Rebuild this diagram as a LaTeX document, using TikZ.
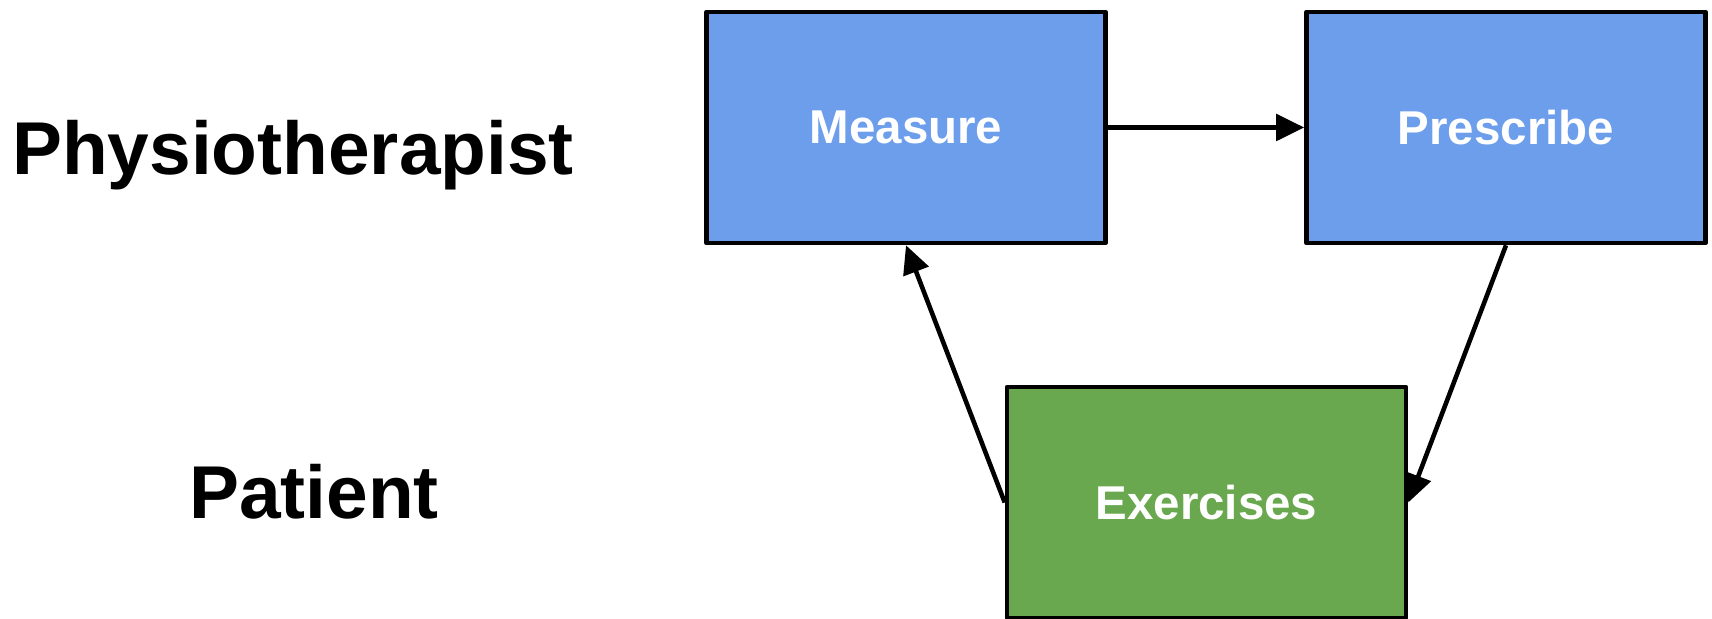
\documentclass[tikz,border=0pt]{standalone}
\usepackage{fontspec}
\setmainfont{Liberation Sans}
\usepackage{tikz}
\usetikzlibrary{arrows.meta, positioning}
\definecolor{stepblue}{HTML}{6D9EEB}
\definecolor{stepgreen}{HTML}{6AA84F}

\tikzset{
  stepbox/.style={draw=black, line width=1.3pt, line join=round,
    minimum width=3.99cm, minimum height=2.31cm, inner sep=0pt,
    text=white, font=\fontsize{13.5}{16}\selectfont\bfseries, text depth=0pt},
  role/.style={font=\fontsize{21.3}{25}\selectfont\bfseries, anchor=base, inner sep=0pt},
  flow/.style={-{Triangle[length=8pt, width=7.5pt]}, line width=1.3pt}
}

\begin{document}
\begin{tikzpicture}
  \useasboundingbox (0,0) rectangle (17.12,6.19);

  % Role labels
  \node[role] (physio) at (2.93,4.44) {Physiotherapist};
  \node[role] (patient) at (3.14,1.00) {Patient};

  % Steps
  \node[stepbox, fill=stepblue] (measure) at (9.06,4.915) {Measure};
  \node[stepbox, fill=stepblue] (prescribe) at (15.06,4.915) {Prescribe};
  \node[stepbox, fill=stepgreen] (exercises) at (12.065,1.165) {Exercises};

  % Cycle
  \draw[flow] (measure.east) -- (prescribe.west);
  \draw[flow] (prescribe.south) -- (exercises.east);
  \draw[flow] (exercises.west) -- (measure.south);
\end{tikzpicture}
\end{document}
